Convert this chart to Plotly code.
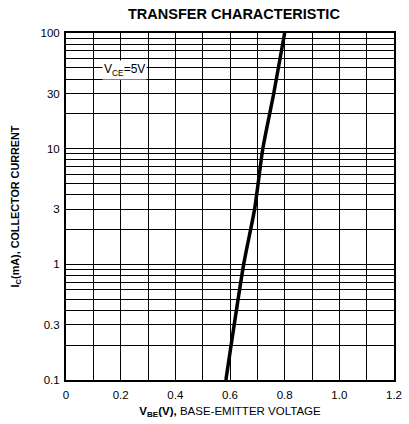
import math
import plotly.graph_objects as go

# Data
vbe = [0.585, 0.65, 0.69, 0.72, 0.76, 0.80]
ic = [0.1, 1, 3, 10, 30, 100]

x_grid = [0.0, 0.1, 0.2, 0.3, 0.4, 0.5, 0.6, 0.7, 0.8, 0.9, 1.0, 1.1, 1.2]
x_labels = ["0", "", "0.2", "", "0.4", "", "0.6", "", "0.8", "", "1.0", "", "1.2"]

y_grid = [0.1, 0.2, 0.3, 0.4, 0.5, 0.6, 0.7, 0.8, 0.9,
          1, 2, 3, 4, 5, 6, 7, 8, 9,
          10, 20, 30, 40, 50, 60, 70, 80, 90, 100]
y_label_map = {0.1: "0.1", 0.3: "0.3", 1: "1", 3: "3", 10: "10", 30: "30", 100: "100"}
y_labels = [y_label_map.get(v, "") for v in y_grid]

note_text = "V<sub>CE</sub>=5V"
note_x, note_y = 0.13, 48

font = "Liberation Sans, Arial, sans-serif"

fig = go.Figure()
fig.add_trace(go.Scatter(x=vbe, y=ic, mode="lines",
                         line=dict(color="black", width=3.5, shape="spline", smoothing=0.6),
                         showlegend=False, hoverinfo="skip"))

fig.update_layout(
    width=409, height=424,
    margin=dict(l=66, r=7, t=33, b=44),
    paper_bgcolor="white", plot_bgcolor="white",
    font=dict(family=font, color="black", size=11.5),
    title=dict(text="<b>TRANSFER CHARACTERISTIC</b>", x=0.572, xanchor="center",
               y=0.967, yanchor="middle", font=dict(size=14.5, family=font)),
    xaxis=dict(range=[0, 1.2], tickvals=x_grid, ticktext=x_labels,
               showgrid=True, gridcolor="black", gridwidth=1.4,
               showline=True, linecolor="black", linewidth=2, mirror=True,
               ticks="", zeroline=False, ticklabelstandoff=3,
               title=dict(text="<b>V<sub>BE</sub>(V),</b> BASE-EMITTER VOLTAGE",
                          font=dict(size=11.5), standoff=7)),
    yaxis=dict(type="log", range=[-1, 2], tickvals=y_grid, ticktext=y_labels,
               showgrid=True, gridcolor="black", gridwidth=1.4,
               showline=True, linecolor="black", linewidth=2, mirror=True,
               ticks="", zeroline=False, ticklabelstandoff=2,
               title=dict(text="<b>I<sub>C</sub>(mA), COLLECTOR CURRENT</b>",
                          font=dict(size=10.8), standoff=19)),
)

fig.add_annotation(x=note_x, y=math.log10(note_y), xref="x", yref="y", text=note_text,
                   showarrow=False, bgcolor="white", font=dict(size=12),
                   xanchor="left", yanchor="middle", borderpad=1)

fig.write_html("out.html", config={"displayModeBar": False},
               post_script="document.body.style.margin='0';")
